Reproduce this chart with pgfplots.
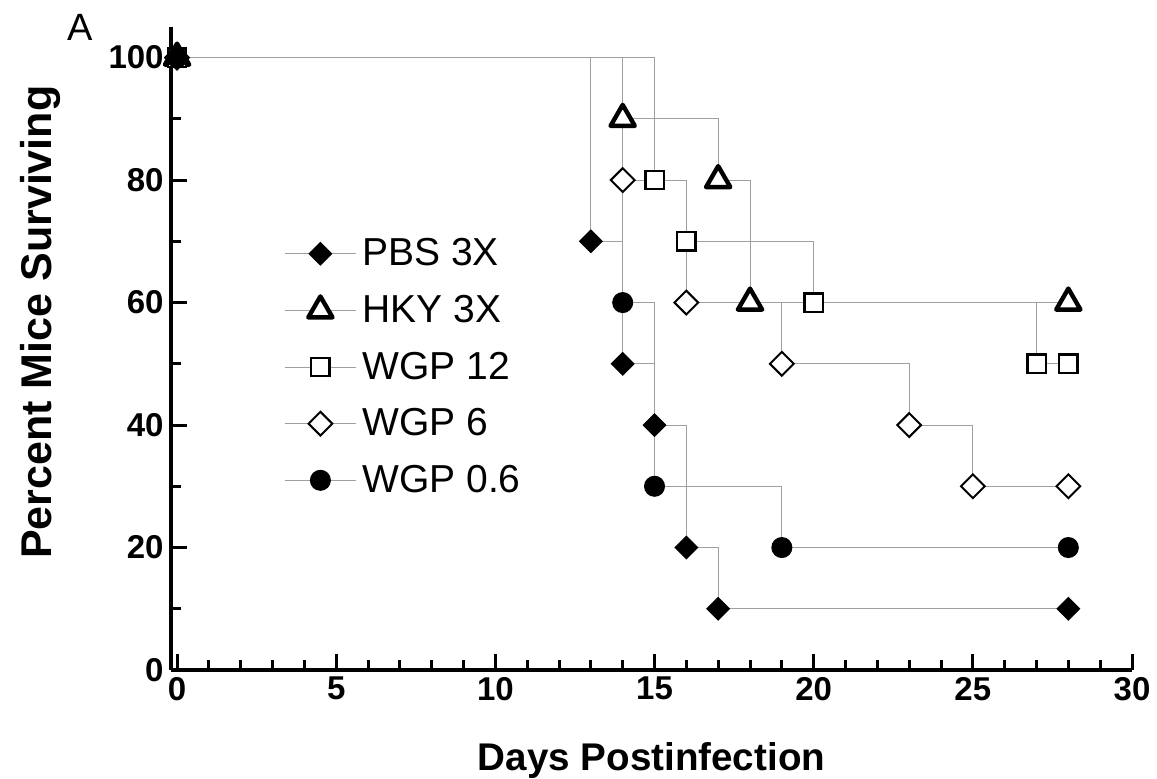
\documentclass[border=0pt]{standalone}
\usepackage{fontspec}
\setmainfont{Liberation Sans}
\usepackage{pgfplots}
\pgfplotsset{compat=1.18}
\definecolor{stepgray}{RGB}{160,160,160}

\begin{document}
\begin{tikzpicture}
\begin{axis}[
  scale only axis, width=480.5pt, height=321.5pt,
  xmin=-0.19, xmax=30, ymin=0, ymax=105,
  axis lines=left, axis line style={-, line width=1.75pt},
  xtick={0,5,...,30}, ytick={0,20,...,100},
  minor x tick num=4, minor y tick num=1,
  tick align=inside, major tick length=8pt, minor tick length=5pt,
  every tick/.style={black, line width=1.5pt},
  /pgf/number format/assume math mode=true,
  ticklabel style={font=\fontsize{16.5}{18}\selectfont\bfseries},
  yticklabel style={inner xsep=3.5pt},
  xlabel={Days Postinfection}, ylabel={Percent Mice Surviving},
  every axis x label/.style={at={([yshift=-50pt]axis description cs:0.5,0)}, anchor=base,
    font=\fontsize{19.3}{22}\selectfont\bfseries},
  every axis y label/.style={at={([xshift=-59.5pt]axis description cs:0,0.541)}, rotate=90, anchor=base,
    font=\fontsize{21.5}{24}\selectfont\bfseries},
  clip=false,
  every axis plot/.append style={const plot, stepgray, line width=0.5pt},
  legend style={at={(axis cs:3.36,70.5)}, anchor=north west, draw=none, fill=none,
    inner sep=0pt, row sep=13.2pt, font=\fontsize{19.5}{22}\selectfont,
    nodes={inner xsep=3pt, inner ysep=0pt}},
  legend cell align=left,
  legend image code/.code={\draw[#1, mark repeat=2, mark phase=2]
    plot coordinates {(0pt,0pt) (17.75pt,0pt) (35.5pt,0pt)};},
]
% PBS 3X
\addplot[mark=square*, mark size=4pt, mark options={solid, rotate=45, draw=black, fill=black, line width=0.5pt}]
  coordinates {(0,100) (13,70) (14,50) (15,40) (16,20) (17,10) (28,10)};
% HKY 3X
\addplot[mark=triangle*, mark size=7pt, mark options={solid, draw=black, fill=white, line width=2.2pt, line join=round}]
  coordinates {(0,100) (14,90) (17,80) (18,60) (28,60)};
% WGP 12
\addplot[mark=square*, mark size=4.6pt, mark options={solid, draw=black, fill=white, line width=1.2pt}]
  coordinates {(0,100) (15,80) (16,70) (20,60) (27,50) (28,50)};
% WGP 6
\addplot[mark=square*, mark size=4.2pt, mark options={solid, rotate=45, draw=black, fill=white, line width=1pt}]
  coordinates {(0,100) (14,80) (16,60) (19,50) (23,40) (25,30) (28,30)};
% WGP 0.6
\addplot[mark=*, mark size=5pt, mark options={solid, draw=black, fill=black, line width=0.5pt}]
  coordinates {(0,100) (14,60) (15,30) (19,20) (28,20)};
\legend{PBS 3X, HKY 3X, WGP 12, WGP 6, WGP 0.6}
\node[font=\fontsize{19}{22}\selectfont] at (axis description cs:-0.0947,1.0) {A};
\coordinate (O) at (rel axis cs:0,0);
\end{axis}
\pgfresetboundingbox
\path (O) ++(-85.5pt,-54pt) rectangle ++(578.5pt,389pt);
\end{tikzpicture}
\end{document}
